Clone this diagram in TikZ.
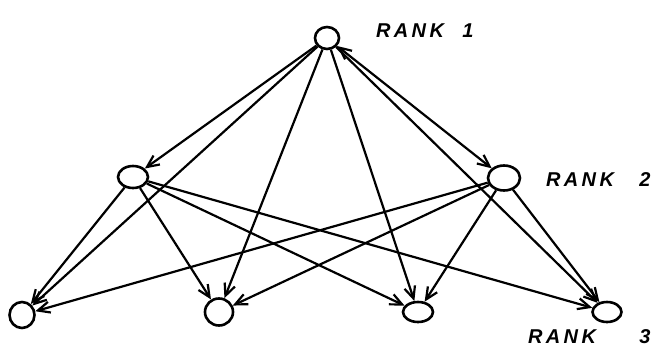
\documentclass[tikz,border=0pt]{standalone}
\usepackage{fontspec}
\setsansfont{Liberation Sans}
\usetikzlibrary{arrows.meta,shapes.geometric}
\begin{document}
\begin{tikzpicture}[x=1pt,y=-1pt,
  vert/.style={draw,ellipse,line width=2.6pt,inner sep=0pt},
  barb/.tip={Straight Barb[length=12pt,width=11pt,line width=2.2pt]},
  edge/.style={line width=2.2pt,-barb},
  ranklabel/.style={font=\sffamily\bfseries\itshape\fontsize{20}{20}\selectfont,inner sep=0pt},
  rankword/.style={ranklabel,anchor=west},
  ranknum/.style={ranklabel,anchor=center}]
\useasboundingbox (0,0) rectangle (657,351);
% rank 1
\node[vert,minimum width=24pt,minimum height=22pt] (t) at (327,38) {};
% rank 2
\node[vert,minimum width=30pt,minimum height=22pt] (l) at (133,177) {};
\node[vert,minimum width=32pt,minimum height=25pt] (r) at (504,178) {};
% rank 3
\node[vert,minimum width=25pt,minimum height=26pt] (b1) at (22,315) {};
\node[vert,minimum width=28pt,minimum height=27pt] (b2) at (219,312) {};
\node[vert,minimum width=30pt,minimum height=20pt] (b3) at (418,312) {};
\node[vert,minimum width=29pt,minimum height=20pt] (b4) at (607,312) {};
% labels
\node[rankword] (lab1) at (376,31) {R\,A\,N\,K};
\node[ranknum] (num1) at (468,31) {1};
\node[rankword] (lab2) at (546,180) {R\,A\,N\,K};
\node[ranknum] (num2) at (645,180) {2};
\node[rankword] (lab3) at (528,337) {R\,A\,N\,K};
\node[ranknum] (num3) at (645,337) {3};
% edges from rank 1
\draw[edge] (t) -- (l);
\draw[edge,barb-barb] (t) -- (r);
\draw[edge] (t) -- (b1);
\draw[edge] (t) -- (b2);
\draw[edge] (t) -- (b3);
\draw[edge] (t) -- (b4);
% edges from rank 2
\draw[edge] (l) -- (b1);
\draw[edge] (l) -- (b2);
\draw[edge] (l) -- (b3);
\draw[edge] (l) -- (b4);
\draw[edge] (r) -- (b1);
\draw[edge] (r) -- (b2);
\draw[edge] (r) -- (b3);
\draw[edge] (r) -- (b4);
\end{tikzpicture}
\end{document}
